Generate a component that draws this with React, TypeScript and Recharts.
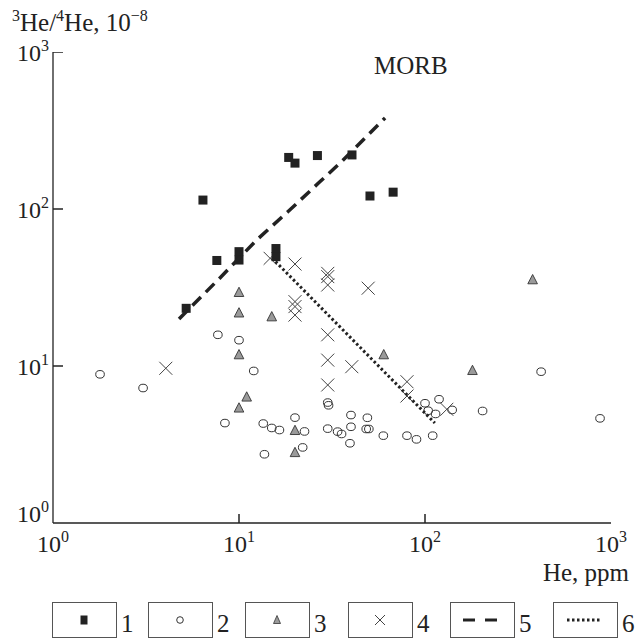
import React from "react";
import { ScatterChart, Scatter, XAxis, YAxis } from "recharts";

// 1: filled squares
const squares = [
  { he: 5.2, r: 23.3 }, { he: 6.4, r: 114 }, { he: 7.6, r: 47 }, { he: 10, r: 53.5 },
  { he: 10, r: 47.3 }, { he: 15.8, r: 56 }, { he: 15.8, r: 49.7 }, { he: 18.5, r: 213 },
  { he: 20, r: 196 }, { he: 26.4, r: 219 }, { he: 40.5, r: 221 }, { he: 50.6, r: 121 },
  { he: 67.4, r: 128 },
];
// 2: open circles
const circles = [
  { he: 1.79, r: 8.85 }, { he: 3.05, r: 7.24 }, { he: 7.7, r: 15.8 }, { he: 10, r: 14.6 },
  { he: 12.0, r: 9.3 }, { he: 8.4, r: 4.33 }, { he: 13.5, r: 4.3 }, { he: 15, r: 4.03 },
  { he: 16.5, r: 3.91 }, { he: 20, r: 4.69 }, { he: 22.5, r: 3.83 }, { he: 22, r: 3.03 },
  { he: 13.7, r: 2.74 }, { he: 30, r: 5.85 }, { he: 30.3, r: 5.62 }, { he: 30, r: 3.99 },
  { he: 33.9, r: 3.82 }, { he: 35.6, r: 3.69 }, { he: 40, r: 4.87 }, { he: 40, r: 4.1 },
  { he: 39.5, r: 3.22 }, { he: 49, r: 4.68 }, { he: 48.3, r: 3.97 }, { he: 49.9, r: 3.97 },
  { he: 59.7, r: 3.6 }, { he: 80, r: 3.6 }, { he: 90, r: 3.41 }, { he: 110, r: 3.6 },
  { he: 100, r: 5.79 }, { he: 104, r: 5.19 }, { he: 114, r: 4.95 }, { he: 119, r: 6.14 },
  { he: 140, r: 5.25 }, { he: 204, r: 5.17 }, { he: 421, r: 9.2 }, { he: 873, r: 4.64 },
];
// 3: grey triangles
const triangles = [
  { he: 10, r: 29.3 }, { he: 10, r: 21.7 }, { he: 15, r: 20.5 }, { he: 10, r: 11.75 },
  { he: 11, r: 6.32 }, { he: 10, r: 5.38 }, { he: 20, r: 3.87 }, { he: 20, r: 2.8 },
  { he: 60, r: 11.75 }, { he: 180, r: 9.33 }, { he: 379, r: 35.3 },
];
// 4: crosses
const crosses = [
  { he: 4.04, r: 9.67 }, { he: 14.7, r: 48.5 }, { he: 20, r: 44.6 }, { he: 20, r: 25.7 },
  { he: 20, r: 23.9 }, { he: 20, r: 21.1 }, { he: 30, r: 38.9 }, { he: 30, r: 37.1 },
  { he: 30, r: 32.8 }, { he: 49.5, r: 31.3 }, { he: 30, r: 15.8 }, { he: 30, r: 10.9 },
  { he: 40.4, r: 9.9 }, { he: 30, r: 7.57 }, { he: 80, r: 7.94 }, { he: 80, r: 6.44 },
  { he: 131, r: 5.3 },
];
// 5: dashed trend
const dashedTrend = [
  { he: 4.76, r: 19.9 }, { he: 7.9, r: 36.4 }, { he: 12.45, r: 63.5 }, { he: 18.3, r: 96 },
  { he: 27.2, r: 149 }, { he: 34.9, r: 196 }, { he: 61, r: 380 },
];
// 6: dotted trend
const dottedTrend = [{ he: 15.05, r: 48.7 }, { he: 113, r: 4.33 }];

const axisTicks = [1, 10, 100, 1000];
const yTickMarks = [{ he: 1, r: 10 }, { he: 1, r: 100 }, { he: 1, r: 1000 }];
const xTickMarks = [{ he: 10, r: 1 }, { he: 100, r: 1 }];
const legendLabels = ["1", "2", "3", "4", "5", "6"];

const FONT = "'Liberation Serif', 'Times New Roman', serif";
const INK = "#222";

const XTick = (props: any) => {
  const { x, y, payload } = props;
  const exp = Math.round(Math.log10(payload.value));
  return (
    <text x={x} y={y + 29} textAnchor="middle" fontFamily={FONT} fontSize={24} fill={INK}>
      10<tspan dy={-10} fontSize={16}>{exp}</tspan>
    </text>
  );
};

const YTick = (props: any) => {
  const { x, y, payload } = props;
  const exp = Math.round(Math.log10(payload.value));
  const by = exp === 0 ? y - 1 : y + 9;
  return (
    <text x={x - 4} y={by} textAnchor="end" fontFamily={FONT} fontSize={24} fill={INK}>
      10<tspan dy={-10} fontSize={16}>{exp}</tspan>
    </text>
  );
};

const SquareShape = (p: any) => <rect x={p.cx - 4.5} y={p.cy - 4.5} width={9} height={9} fill={INK} />;
const CircleShape = (p: any) => (
  <ellipse cx={p.cx} cy={p.cy} rx={4.3} ry={3.8} fill="none" stroke="#333" strokeWidth={1} />
);
const TriangleShape = (p: any) => (
  <polygon
    points={`${p.cx},${p.cy - 5.5} ${p.cx - 4.8},${p.cy + 3.8} ${p.cx + 4.8},${p.cy + 3.8}`}
    fill="#9a9a9a"
    stroke="#333"
    strokeWidth={0.9}
  />
);
const CrossShape = (p: any) => (
  <g stroke="#444" strokeWidth={1}>
    <line x1={p.cx - 6.5} y1={p.cy - 6.5} x2={p.cx + 6.5} y2={p.cy + 6.5} />
    <line x1={p.cx - 6.5} y1={p.cy + 6.5} x2={p.cx + 6.5} y2={p.cy - 6.5} />
  </g>
);
const YTickMark = (p: any) => (
  <line x1={p.cx} x2={p.cx + 10} y1={p.cy} y2={p.cy} stroke={INK} strokeWidth={1.5} />
);
const XTickMark = (p: any) => (
  <line x1={p.cx} x2={p.cx} y1={p.cy} y2={p.cy - 9} stroke={INK} strokeWidth={1.5} />
);
const NoShape = () => <g />;

const boxX = [52, 148, 245, 348, 450, 553];

const LegendIcon = ({ i, cx, cy }: { i: number; cx: number; cy: number }) => {
  if (i === 0) return <rect x={cx - 3.5} y={cy - 4.5} width={7} height={9} fill={INK} />;
  if (i === 1) return <circle cx={cx} cy={cy} r={3.3} fill="none" stroke="#333" strokeWidth={1} />;
  if (i === 2)
    return (
      <polygon
        points={`${cx},${cy - 4.5} ${cx - 3.5},${cy + 3.5} ${cx + 3.5},${cy + 3.5}`}
        fill="#9a9a9a"
        stroke="#333"
        strokeWidth={0.8}
      />
    );
  if (i === 3)
    return (
      <g stroke="#444" strokeWidth={1}>
        <line x1={cx - 5} y1={cy - 5} x2={cx + 5} y2={cy + 5} />
        <line x1={cx - 5} y1={cy + 5} x2={cx + 5} y2={cy - 5} />
      </g>
    );
  if (i === 4)
    return (
      <g stroke={INK} strokeWidth={3}>
        <line x1={cx - 19} y1={cy} x2={cx - 7} y2={cy} />
        <line x1={cx + 3} y1={cy} x2={cx + 15} y2={cy} />
      </g>
    );
  return <line x1={cx - 18} y1={cy} x2={cx + 17} y2={cy} stroke={INK} strokeWidth={3} strokeDasharray="2.5 2.5" />;
};

export default function App() {
  return (
    <div style={{ position: "absolute", left: 0, top: 0, width: 643, height: 644, background: "#fff" }}>
      <ScatterChart width={643} height={644} margin={{ top: 52, right: 32, bottom: 120, left: 52 }}>
        <XAxis
          type="number"
          dataKey="he"
          scale="log"
          domain={[1, 1000]}
          ticks={axisTicks}
          allowDataOverflow
          height={1}
          tickSize={0}
          tickMargin={0}
          tickLine={false}
          axisLine={{ stroke: INK, strokeWidth: 1.3 }}
          tick={<XTick />}
        />
        <YAxis
          type="number"
          dataKey="r"
          scale="log"
          domain={[1, 1000]}
          ticks={axisTicks}
          allowDataOverflow
          width={1}
          tickSize={0}
          tickMargin={0}
          tickLine={false}
          axisLine={{ stroke: INK, strokeWidth: 1.3 }}
          tick={<YTick />}
        />
        <Scatter data={yTickMarks} shape={<YTickMark />} isAnimationActive={false} legendType="none" />
        <Scatter data={xTickMarks} shape={<XTickMark />} isAnimationActive={false} legendType="none" />
        <Scatter data={circles} shape={<CircleShape />} isAnimationActive={false} />
        <Scatter data={triangles} shape={<TriangleShape />} isAnimationActive={false} />
        <Scatter data={crosses} shape={<CrossShape />} isAnimationActive={false} />
        <Scatter data={squares} shape={<SquareShape />} isAnimationActive={false} />
        <Scatter
          data={dashedTrend}
          shape={<NoShape />}
          line={{ stroke: INK, strokeWidth: 3.5, strokeDasharray: "12 7" }}
          isAnimationActive={false}
        />
        <Scatter
          data={dottedTrend}
          shape={<NoShape />}
          line={{ stroke: INK, strokeWidth: 3, strokeDasharray: "2.5 2.5" }}
          isAnimationActive={false}
        />
      </ScatterChart>
      <svg width={643} height={644} style={{ position: "absolute", left: 0, top: 0, pointerEvents: "none" }}>
        <text x={12} y={31} fontFamily={FONT} fontSize={25} fill={INK}>
          <tspan fontSize={16} dy={-10}>3</tspan>
          <tspan dy={10}>He/</tspan>
          <tspan fontSize={16} dy={-10}>4</tspan>
          <tspan dy={10}>He, 10</tspan>
          <tspan fontSize={16} dy={-10}>−8</tspan>
        </text>
        <text x={374} y={74} fontFamily={FONT} fontSize={25} fill={INK}>MORB</text>
        <text x={629} y={581} textAnchor="end" fontFamily={FONT} fontSize={25} fill={INK}>He, ppm</text>
        {legendLabels.map((lab, i) => (
          <g key={lab}>
            <rect x={boxX[i] + 0.5} y={602.5} width={64} height={35} fill="none" stroke="#555" strokeWidth={1} />
            <LegendIcon i={i} cx={boxX[i] + 32} cy={620} />
            <text x={boxX[i] + 69} y={632} fontFamily={FONT} fontSize={25} fill={INK}>{lab}</text>
          </g>
        ))}
      </svg>
    </div>
  );
}
